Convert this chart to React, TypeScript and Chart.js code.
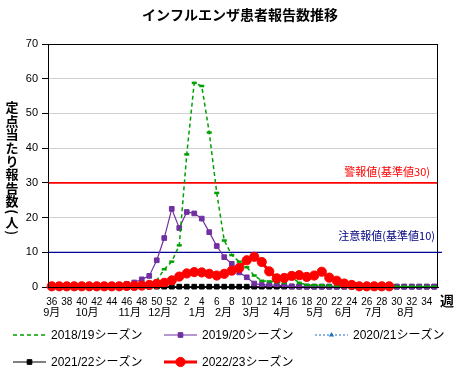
import React, { useEffect, useRef } from 'react';
import { Chart, registerables } from 'chart.js';

Chart.register(...registerables);

const TITLE = 'インフルエンザ患者報告数推移';
const Y_TITLE = ['定', '点', '当', 'た', 'り', '報', '告', '数', '(', '人', ')'];
const X_UNIT = '週';

const WEEKS = [
  36, 37, 38, 39, 40, 41, 42, 43, 44, 45, 46, 47, 48, 49, 50, 51, 52,
  1, 2, 3, 4, 5, 6, 7, 8, 9, 10, 11, 12, 13, 14, 15, 16, 17, 18, 19, 20,
  21, 22, 23, 24, 25, 26, 27, 28, 29, 30, 31, 32, 33, 34, 35,
];

const MONTH_LABELS = ['9月', '10月', '11月', '12月', '1月', '2月', '3月', '4月', '5月', '6月', '7月', '8月'];
// position of each month label, in category (week index) units
const MONTH_AT = [0, 4.7, 10.4, 14.4, 19.4, 22.9, 26.6, 30.7, 35.1, 38.9, 42.9, 47.2];

const SERIES_NAMES = ['2018/19シーズン', '2019/20シーズン', '2020/21シーズン', '2021/22シーズン', '2022/23シーズン'];

const S2018_19 = [
  0.1, 0.1, 0.1, 0.1, 0.1, 0.1, 0.1, 0.1, 0.2, 0.2, 0.3, 0.4, 0.7, 1.1, 1.9, 5.1, 7.3,
  12.0, 38.2, 58.8, 57.9, 44.5, 27.1, 13.4, 9.2, 7.3, 5.7, 3.3, 1.8, 1.6, 1.4, 1.2, 2.8, 1.2, 0.6, 0.5, 0.5,
  0.4, 0.3, 0.2, 0.2, 0.1, 0.1, 0.1, 0.1, 0.1, 0.1, 0.1, 0.1, 0.1, 0.1, 0.1,
];
const S2019_20 = [
  0.3, 0.6, 0.4, 0.4, 0.4, 0.4, 0.4, 0.5, 0.5, 0.6, 0.9, 1.3, 2.2, 3.2, 7.7, 14.1, 22.5,
  17.0, 21.6, 21.2, 19.7, 15.8, 11.8, 8.6, 6.7, 4.2, 2.8, 1.0, 0.6, 0.6, 0.5, 0.4, 0.2, 0.1, 0.1, 0.1, 0.1,
  0.1, 0.1, 0.1, 0.1, 0.1, 0.1, 0.1, 0.1, 0.1, 0.1, 0.1, 0.1, 0.1, 0.1, 0.1,
];
const S2020_21 = [
  0, 0, 0, 0, 0, 0, 0, 0, 0, 0, 0, 0, 0, 0, 0, 0, 0,
  0, 0, 0, 0, 0, 0, 0, 0, 0, 0, 0, 0, 0, 0, 0, 0, 0, 0, 0, 0,
  0, 0, 0, 0, 0, 0, 0, 0, 0, 0, 0, 0, 0, 0, 0,
];
const S2021_22 = [
  0.1, 0.1, 0.1, 0.1, 0.1, 0.1, 0.1, 0.1, 0.1, 0.1, 0.1, 0.1, 0.1, 0.1, 0.1, 0.1, 0.1,
  0.1, 0.1, 0.1, 0.1, 0.1, 0.1, 0.1, 0.1, 0.1, 0.1, 0.1, 0.1, 0.1, 0.1, 0.1, 0.1, 0.1, 0.1, 0.1, 0.1,
  0.1, 0.1, 0.1, 0.1, 0.1, 0.1, 0.1, 0.1, 0.1, 0.1, 0.1, 0.1, 0.1, 0.1, 0.1,
];
const S2022_23 = [
  0.2, 0.2, 0.2, 0.2, 0.2, 0.2, 0.2, 0.2, 0.2, 0.2, 0.3, 0.3, 0.4, 0.6, 0.9, 1.2, 1.9,
  3.0, 3.9, 4.3, 4.2, 3.8, 3.3, 3.8, 4.7, 5.5, 7.7, 8.7, 7.2, 4.5, 2.5, 2.6, 3.2, 3.4, 2.9, 3.3, 4.4,
  2.7, 1.8, 1.0, 0.6, 0.2, 0.2, 0.2, 0.2, 0.2, null, null, null, null, null, null,
];

const ALARM_VALUE = 30;
const ALARM_LABEL = '警報値(基準値30)';
const ALERT_VALUE = 10;
const ALERT_LABEL = '注意報値(基準値10)';

const Y_MIN = 0;
const Y_MAX = 70;
const Y_STEP = 10;

const CJK = "'Noto Sans CJK JP', sans-serif";
const LAT = "'Liberation Sans', 'Noto Sans CJK JP', sans-serif";

type Style = { color: string; width: number; dash: number[]; point: string; radius: number; pbw: number };
const STYLES: Style[] = [
  { color: '#00a000', width: 1.5, dash: [4, 3], point: 'line', radius: 2.5, pbw: 2.5 },
  { color: '#7030a0', width: 1.2, dash: [], point: 'rect', radius: 3.3, pbw: 1 },
  { color: '#1f6fc0', width: 1, dash: [2, 2], point: 'triangle', radius: 3, pbw: 1 },
  { color: '#000000', width: 1, dash: [], point: 'rect', radius: 3.3, pbw: 1 },
  { color: '#ff0000', width: 3, dash: [], point: 'circle', radius: 4.6, pbw: 1 },
];

function drawMarker(ctx: CanvasRenderingContext2D, s: Style, x: number, y: number) {
  ctx.save();
  ctx.setLineDash([]);
  ctx.fillStyle = s.color;
  ctx.strokeStyle = s.color;
  ctx.lineWidth = s.pbw;
  ctx.beginPath();
  if (s.point === 'circle') {
    ctx.arc(x, y, s.radius, 0, Math.PI * 2);
    ctx.fill();
    ctx.stroke();
  } else if (s.point === 'rect') {
    const h = s.radius * Math.SQRT1_2;
    ctx.rect(x - h, y - h, 2 * h, 2 * h);
    ctx.fill();
    ctx.stroke();
  } else if (s.point === 'triangle') {
    const r = s.radius;
    ctx.moveTo(x, y - r);
    ctx.lineTo(x + r * 0.87, y + r * 0.5);
    ctx.lineTo(x - r * 0.87, y + r * 0.5);
    ctx.closePath();
    ctx.fill();
  } else if (s.point === 'line') {
    ctx.moveTo(x - s.radius, y);
    ctx.lineTo(x + s.radius, y);
    ctx.stroke();
  }
  ctx.restore();
}

const decorPlugin = {
  id: 'decor',
  beforeDatasetsDraw(chart: any) {
    const { ctx, chartArea } = chart;
    const y = chart.scales.y;
    ctx.save();
    const ya = y.getPixelForValue(ALARM_VALUE);
    ctx.strokeStyle = '#ff0000';
    ctx.lineWidth = 1.6;
    ctx.beginPath();
    ctx.moveTo(chartArea.left, ya);
    ctx.lineTo(chartArea.right, ya);
    ctx.stroke();
    const yb = y.getPixelForValue(ALERT_VALUE);
    ctx.strokeStyle = '#000099';
    ctx.lineWidth = 1.3;
    ctx.beginPath();
    ctx.moveTo(chartArea.left, yb);
    ctx.lineTo(chartArea.right + 4, yb);
    ctx.stroke();
    ctx.font = `11px ${CJK}`;
    ctx.textAlign = 'right';
    ctx.textBaseline = 'middle';
    ctx.fillStyle = '#ff0000';
    ctx.fillText(ALARM_LABEL, chartArea.right - 8, ya - 11.5);
    ctx.fillStyle = '#000080';
    ctx.fillText(ALERT_LABEL, chartArea.right - 3, yb - 16);
    ctx.restore();
  },
  afterDraw(chart: any) {
    const { ctx, chartArea } = chart;
    const xs = chart.scales.x;
    ctx.save();
    ctx.strokeStyle = '#000';
    ctx.lineWidth = 1;
    ctx.setLineDash([]);
    ctx.strokeRect(chartArea.left + 0.5, chartArea.top + 0.5, chartArea.right - chartArea.left - 1, chartArea.bottom - chartArea.top);
    ctx.fillStyle = '#000';
    ctx.font = `bold 14px ${CJK}`;
    ctx.textAlign = 'center';
    ctx.textBaseline = 'middle';
    ctx.fillText(TITLE, 240, 15);
    // stacked vertical y title; parentheses rotated as in vertical writing
    ctx.font = `bold 13px ${CJK}`;
    let yy = 107.5;
    Y_TITLE.forEach((ch, i) => {
      if (ch === '(' || ch === ')') {
        ctx.save();
        ctx.translate(12, yy);
        ctx.rotate(Math.PI / 2);
        ctx.fillText(ch, 0, 0);
        ctx.restore();
      } else {
        ctx.fillText(ch, 12, yy);
      }
      yy += ch === '(' || Y_TITLE[i + 1] === ')' || Y_TITLE[i + 1] === '(' ? 10.5 : 13.4;
    });
    ctx.font = `bold 14px ${CJK}`;
    ctx.fillText(X_UNIT, chartArea.right + 9, chartArea.bottom + 14);
    ctx.font = `11px ${LAT}`;
    MONTH_LABELS.forEach((m, i) => {
      ctx.fillText(m, xs.getPixelForValue(MONTH_AT[i]), chartArea.bottom + 26);
    });
    const cols = [13, 164, 315];
    const rows = [335, 362];
    ctx.font = `12px ${LAT}`;
    SERIES_NAMES.forEach((name, i) => {
      const s = STYLES[i];
      const x0 = cols[i % 3];
      const y0 = rows[Math.floor(i / 3)];
      const x1 = x0 + 33;
      ctx.save();
      ctx.strokeStyle = s.color;
      ctx.lineWidth = s.width;
      ctx.setLineDash(s.dash);
      ctx.beginPath();
      ctx.moveTo(x0, y0);
      ctx.lineTo(x1, y0);
      ctx.stroke();
      ctx.restore();
      if (s.point !== 'line') drawMarker(ctx, s, (x0 + x1) / 2, y0);
      ctx.fillStyle = '#000';
      ctx.textAlign = 'left';
      ctx.fillText(name, x1 + 5, y0 + 1);
    });
    ctx.restore();
  },
};

export default function App() {
  const ref = useRef<HTMLCanvasElement | null>(null);
  useEffect(() => {
    if (!ref.current) return;
    const seriesData = [S2018_19, S2019_20, S2020_21, S2021_22, S2022_23];
    const orders = [2, 3, 5, 4, 1];
    const chart = new Chart(ref.current, {
      type: 'line',
      data: {
        labels: WEEKS.map(String),
        datasets: seriesData.map((d, i) => ({
          label: SERIES_NAMES[i],
          data: d,
          borderColor: STYLES[i].color,
          backgroundColor: STYLES[i].color,
          borderWidth: STYLES[i].width,
          borderDash: STYLES[i].dash,
          pointStyle: STYLES[i].point as any,
          pointRadius: STYLES[i].radius,
          pointBorderWidth: STYLES[i].pbw,
          pointBackgroundColor: STYLES[i].color,
          pointBorderColor: STYLES[i].color,
          tension: 0,
          spanGaps: false,
          clip: 8,
          order: orders[i],
        })),
      },
      options: {
        responsive: false,
        animation: false,
        events: [],
        layout: { padding: { top: 44, left: 0, right: 20, bottom: 59 } },
        plugins: {
          legend: { display: false },
          title: { display: false },
          tooltip: { enabled: false },
        },
        scales: {
          x: {
            type: 'category',
            offset: true,
            grid: { display: false, drawTicks: false },
            border: { display: true, color: '#000' },
            ticks: {
              autoSkip: false,
              maxRotation: 0,
              minRotation: 0,
              padding: 9,
              color: '#000',
              font: { family: LAT, size: 10 },
              callback: (_v: any, i: number) => (WEEKS[i] % 2 === 0 ? String(WEEKS[i]) : ''),
            },
            afterFit: (s: any) => {
              s.height = 30;
            },
          },
          y: {
            min: Y_MIN,
            max: Y_MAX,
            ticks: { stepSize: Y_STEP, color: '#000', padding: 4, font: { family: LAT, size: 11 } },
            grid: { color: '#d0d0d0', tickColor: '#000', tickLength: 6, lineWidth: 1 },
            border: { display: true, color: '#000' },
            afterFit: (s: any) => {
              s.width = 48;
            },
          },
        },
      },
      plugins: [decorPlugin],
    } as any);
    return () => chart.destroy();
  }, []);
  return (
    <div style={{ position: 'absolute', left: 0, top: 0, width: 458, height: 376, background: '#fff' }}>
      <canvas ref={ref} width={458} height={376} style={{ display: 'block' }} />
    </div>
  );
}
